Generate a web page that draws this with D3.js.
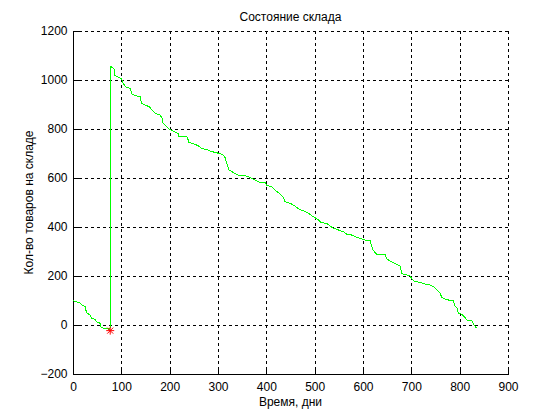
<!DOCTYPE html>
<html><head><meta charset="utf-8">
<script src="https://cdn.jsdelivr.net/npm/d3@7"></script>
<style>body{margin:0;background:#fff}svg text{font-family:"Liberation Sans",Arial,sans-serif;font-size:12px;fill:#000}</style>
</head><body><svg id="c" width="560" height="420"></svg>
<script>
const title = "Состояние склада";
const xLabel = "Время, дни";
const yLabel = "Кол-во товаров на складе";
const xTicks = [0,100,200,300,400,500,600,700,800,900];
const yTicks = [-200,0,200,400,600,800,1000,1200];
const days = [0,6,14,18,25,28,35,39,46,49,56,57,63,70,75,77,
  77,82,86,86,94,101,104,110,119,121,130,140,141,149,158,163,170,180,185,185,192,199,209,218,219,237,239,249,259,266,277,287,301,308,314,318,323,332,342,356,366,377,387,397,401,411,418,425,434,439,449,459,468,476,487,497,508,513,525,532,539,549,559,566,577,584,594,604,615,618,621,628,639,646,650,665,677,680,685,697,703,708,718,728,739,746,753,759,763,770,777,787,790,794,797,804,811,815,825,830,835];
const stock = [99,95,91,82,75,50,41,27,23,13,7,-7,-13,-13,-18,-12,
  1057,1050,1042,1020,1011,1004,986,970,966,943,936,932,906,898,891,878,864,857,844,826,812,800,789,782,771,767,746,740,732,721,716,708,701,697,687,660,633,622,612,609,603,592,582,582,571,564,551,540,524,503,497,486,472,467,456,442,429,418,415,404,395,388,381,371,367,360,354,347,344,320,306,289,289,286,268,252,241,211,207,201,184,177,174,167,163,156,143,132,113,106,102,98,78,72,48,44,31,20,18,0,-14];
const markX = [77];
const markY = [-23];

const svg = d3.select("#c");
const m = {l:73, r:508, t:31, b:374};
const x = d3.scaleLinear().domain([0,900]).range([m.l,m.r]);
const y = d3.scaleLinear().domain([-200,1200]).range([m.b,m.t]);

const g = svg.append("g").attr("shape-rendering","crispEdges");
g.selectAll(".gx").data(xTicks.slice(1)).enter().append("line")
  .attr("x1",d=>Math.round(x(d))+0.5).attr("x2",d=>Math.round(x(d))+0.5)
  .attr("y1",m.t).attr("y2",m.b).attr("stroke","#000").attr("stroke-dasharray","3,3");
g.selectAll(".gy").data(yTicks.slice(1)).enter().append("line")
  .attr("y1",d=>Math.round(y(d))+0.5).attr("y2",d=>Math.round(y(d))+0.5)
  .attr("x1",m.l).attr("x2",m.r).attr("stroke","#000").attr("stroke-dasharray","3,3");
const xa = svg.append("g").attr("shape-rendering","crispEdges").attr("transform",`translate(0,${m.b+0.5})`)
  .call(d3.axisBottom(x).tickValues(xTicks).tickSize(-5).tickPadding(8).tickFormat(d3.format("d")));
const ya = svg.append("g").attr("shape-rendering","crispEdges").attr("transform",`translate(${m.l+0.5},0)`)
  .call(d3.axisLeft(y).tickValues(yTicks).tickSize(-5).tickPadding(6).tickFormat(d3.format("d")));
[xa,ya].forEach(a=>{a.selectAll("path").attr("stroke","#000");a.selectAll("line").attr("stroke","#000");
  a.selectAll("text").style("font-size","12px").style("font-family","Liberation Sans, Arial, sans-serif").attr("fill","#000");});
xa.select(".domain").attr("d",`M${m.l},0H${m.r}`);
ya.select(".domain").attr("d",`M0,${m.t}V${m.b}`);

const pts = days.map((d,i)=>[d,stock[i]]);
svg.append("path").datum(pts)
  .attr("d",d3.line().x(d=>x(d[0])).y(d=>y(d[1])))
  .attr("fill","none").attr("stroke","#00ff00").attr("stroke-width",1).attr("shape-rendering","crispEdges");

markX.forEach((mx,i)=>{
  const cx=x(mx), cy=y(markY[i]), r=4;
  const rr=r*0.75;
  svg.append("path").attr("d",`M${cx-r},${cy}H${cx+r}M${cx},${cy-r}V${cy+r}M${cx-rr},${cy-rr}L${cx+rr},${cy+rr}M${cx-rr},${cy+rr}L${cx+rr},${cy-rr}`)
    .attr("stroke","#ff0000").attr("stroke-width",1).attr("fill","none");
});

svg.append("text").attr("x",(m.l+m.r)/2).attr("y",21).attr("text-anchor","middle").text(title);
svg.append("text").attr("x",(m.l+m.r)/2).attr("y",406).attr("text-anchor","middle").text(xLabel);
svg.append("text").attr("transform",`translate(33,${(m.t+m.b)/2}) rotate(-90)`).attr("text-anchor","middle").text(yLabel);
</script></body></html>
